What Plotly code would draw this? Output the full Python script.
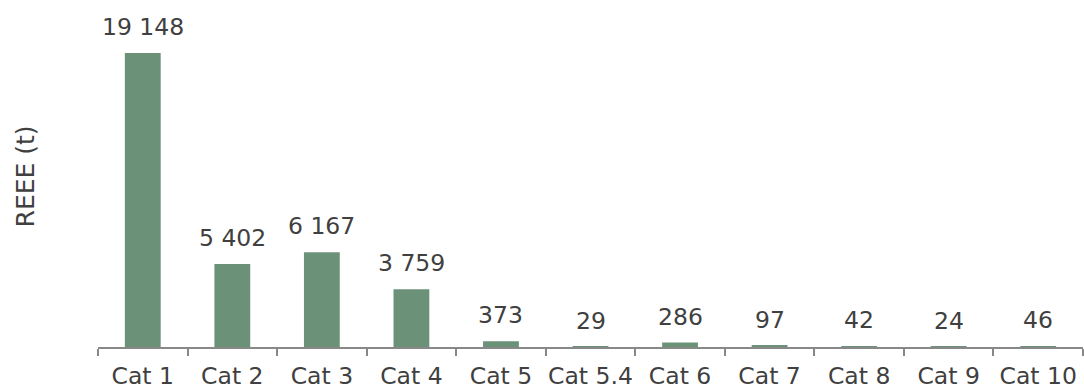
import plotly.graph_objects as go

categories = ["Cat 1", "Cat 2", "Cat 3", "Cat 4", "Cat 5", "Cat 5.4",
              "Cat 6", "Cat 7", "Cat 8", "Cat 9", "Cat 10"]
reee_tonnes = [19148, 5402, 6167, 3759, 373, 29, 286, 97, 42, 24, 46]
value_labels = ["19 148", "5 402", "6 167", "3 759", "373", "29",
                "286", "97", "42", "24", "46"]

bar_color = "#6b9178"
text_color = "#404040"
font_family = "Verdana, DejaVu Sans, sans-serif"
font_size = 23.5

fig = go.Figure(
    go.Bar(
        x=categories,
        y=reee_tonnes,
        marker=dict(color=bar_color, line=dict(width=0)),
        width=0.4,
    )
)

# value labels above each bar
for cat, val, lab in zip(categories, reee_tonnes, value_labels):
    fig.add_annotation(
        x=cat, y=val, text=lab, showarrow=False,
        xref="x", yref="y", yanchor="bottom", yshift=10,
        font=dict(family=font_family, size=font_size, color=text_color),
    )

# vertical axis title
fig.add_annotation(
    x=-0.074, y=0.556, xref="paper", yref="paper",
    xanchor="center", yanchor="middle",
    text="REEE (t)", textangle=-90, showarrow=False,
    font=dict(family=font_family, size=25, color=text_color),
)

fig.update_layout(
    width=1084, height=390,
    margin=dict(l=98, r=1, t=40, b=43),
    plot_bgcolor="white", paper_bgcolor="white",
    showlegend=False,
    bargap=0.6,
    font=dict(family=font_family, size=font_size, color=text_color),
)
fig.update_xaxes(
    showline=True, linecolor="#888888", linewidth=2,
    ticks="outside", tickson="boundaries", ticklen=7, tickcolor="#888888", tickwidth=2,
    tickfont=dict(family=font_family, size=font_size, color=text_color),
    tickangle=0, automargin=False,
    ticklabelstandoff=7,
    showgrid=False,
)
fig.update_yaxes(
    range=[0, 20000], showticklabels=False, showgrid=False,
    zeroline=False, showline=False, ticks="", automargin=False,
)

fig.write_html("out.html")
